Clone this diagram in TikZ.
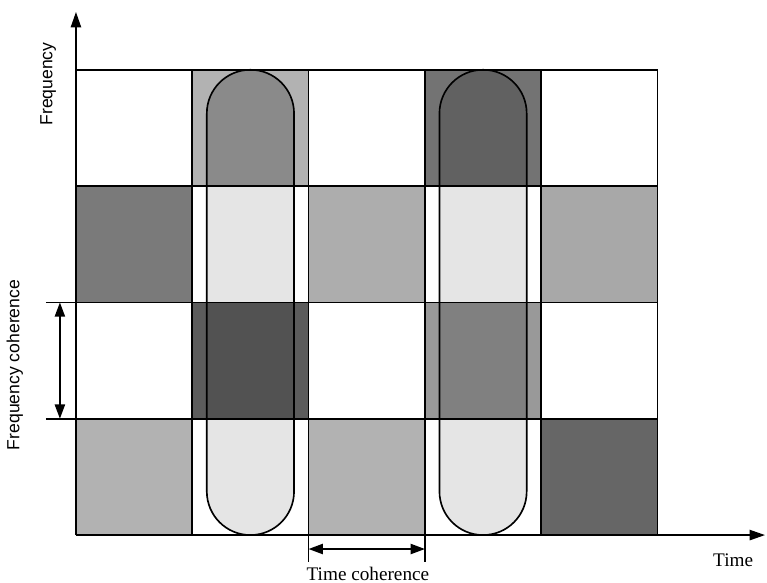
\documentclass[tikz,border=0pt]{standalone}
\usepackage{fontspec}
\setmainfont{Liberation Serif}
\setsansfont{Liberation Sans}
\usetikzlibrary{arrows.meta}

\tikzset{
  gridline/.style={line width=0.8pt},
  axisarrow/.style={line width=0.8pt, -{Triangle[length=7.5pt,width=5pt]}},
  dimarrow/.style={line width=0.8pt, {Triangle[length=7pt,width=5pt]}-{Triangle[length=7pt,width=5pt]}},
  seriflbl/.style={font=\fontsize{9.4}{11}\selectfont, inner sep=0pt},
  sanslbl/.style={font=\sffamily\fontsize{8.6}{10}\selectfont, inner sep=0pt, rotate=90}
}

\begin{document}
\begin{tikzpicture}[x=2cm, y=2cm]
  \useasboundingbox (-0.653,-0.404) rectangle (5.941,4.600);

  % ========== Cell shading ==========
  % top row
  \fill[black!30] (1,3) rectangle (2,4);
  \fill[black!55] (3,3) rectangle (4,4);
  % second row
  \fill[black!52] (0,2) rectangle (1,3);
  \fill[black!32] (2,2) rectangle (3,3);
  \fill[black!34] (4,2) rectangle (5,3);
  % third row
  \fill[black!64] (1,1) rectangle (2,2);
  \fill[black!40] (3,1) rectangle (4,2);
  % bottom row
  \fill[black!30] (0,0) rectangle (1,1);
  \fill[black!30] (2,0) rectangle (3,1);
  \fill[black!60] (4,0) rectangle (5,1);

  % ========== Pill, first column of interest ==========
  \begin{scope}
    \clip (1.125,0.375) -- (1.125,3.625) arc[start angle=180, end angle=0, radius=0.375]
      -- (1.875,0.375) arc[start angle=0, end angle=-180, radius=0.375] -- cycle;
    \fill[black!10] (1,0) rectangle (2,4);
    \fill[black!46] (1,3) rectangle (2,4);
    \fill[black!68] (1,1) rectangle (2,2);
  \end{scope}
  \draw[gridline] (1.125,0.375) -- (1.125,3.625) arc[start angle=180, end angle=0, radius=0.375]
    -- (1.875,0.375) arc[start angle=0, end angle=-180, radius=0.375] -- cycle;

  % ========== Pill, second column of interest ==========
  \begin{scope}
    \clip (3.125,0.375) -- (3.125,3.625) arc[start angle=180, end angle=0, radius=0.375]
      -- (3.875,0.375) arc[start angle=0, end angle=-180, radius=0.375] -- cycle;
    \fill[black!10] (3,0) rectangle (4,4);
    \fill[black!62] (3,3) rectangle (4,4);
    \fill[black!50] (3,1) rectangle (4,2);
  \end{scope}
  \draw[gridline] (3.125,0.375) -- (3.125,3.625) arc[start angle=180, end angle=0, radius=0.375]
    -- (3.875,0.375) arc[start angle=0, end angle=-180, radius=0.375] -- cycle;

  % ========== Grid and axes ==========
  \draw[gridline, step=2cm] (0,0) grid (5,4);
  \coordinate (origin) at (0,0);
  \coordinate (ftip) at (0,4.497);
  \coordinate (ttip) at (5.924,0);
  \draw[axisarrow] (origin) -- (ftip);
  \draw[axisarrow] (origin) -- (ttip);

  \node[sanslbl] (freq) at (-0.24,3.878) {Frequency};
  \node[seriflbl] (time) at (5.65,-0.215) {Time};

  % ========== Frequency coherence ==========
  \draw[gridline] (-0.258,2) -- (0,2);
  \draw[gridline] (-0.258,1) -- (0,1);
  \coordinate (fc-top) at (-0.138,2);
  \coordinate (fc-bot) at (-0.138,1);
  \draw[dimarrow] (fc-top) -- (fc-bot);
  \node[sanslbl] (fclbl) at (-0.525,1.462) {Frequency coherence};

  % ========== Time coherence ==========
  \draw[gridline] (2,0) -- (2,-0.232);
  \draw[gridline] (3,0) -- (3,-0.232);
  \coordinate (tc-left) at (2,-0.12);
  \coordinate (tc-right) at (3,-0.12);
  \draw[dimarrow] (tc-left) -- (tc-right);
  \node[seriflbl] (tclbl) at (2.51,-0.335) {Time coherence};

\end{tikzpicture}
\end{document}
